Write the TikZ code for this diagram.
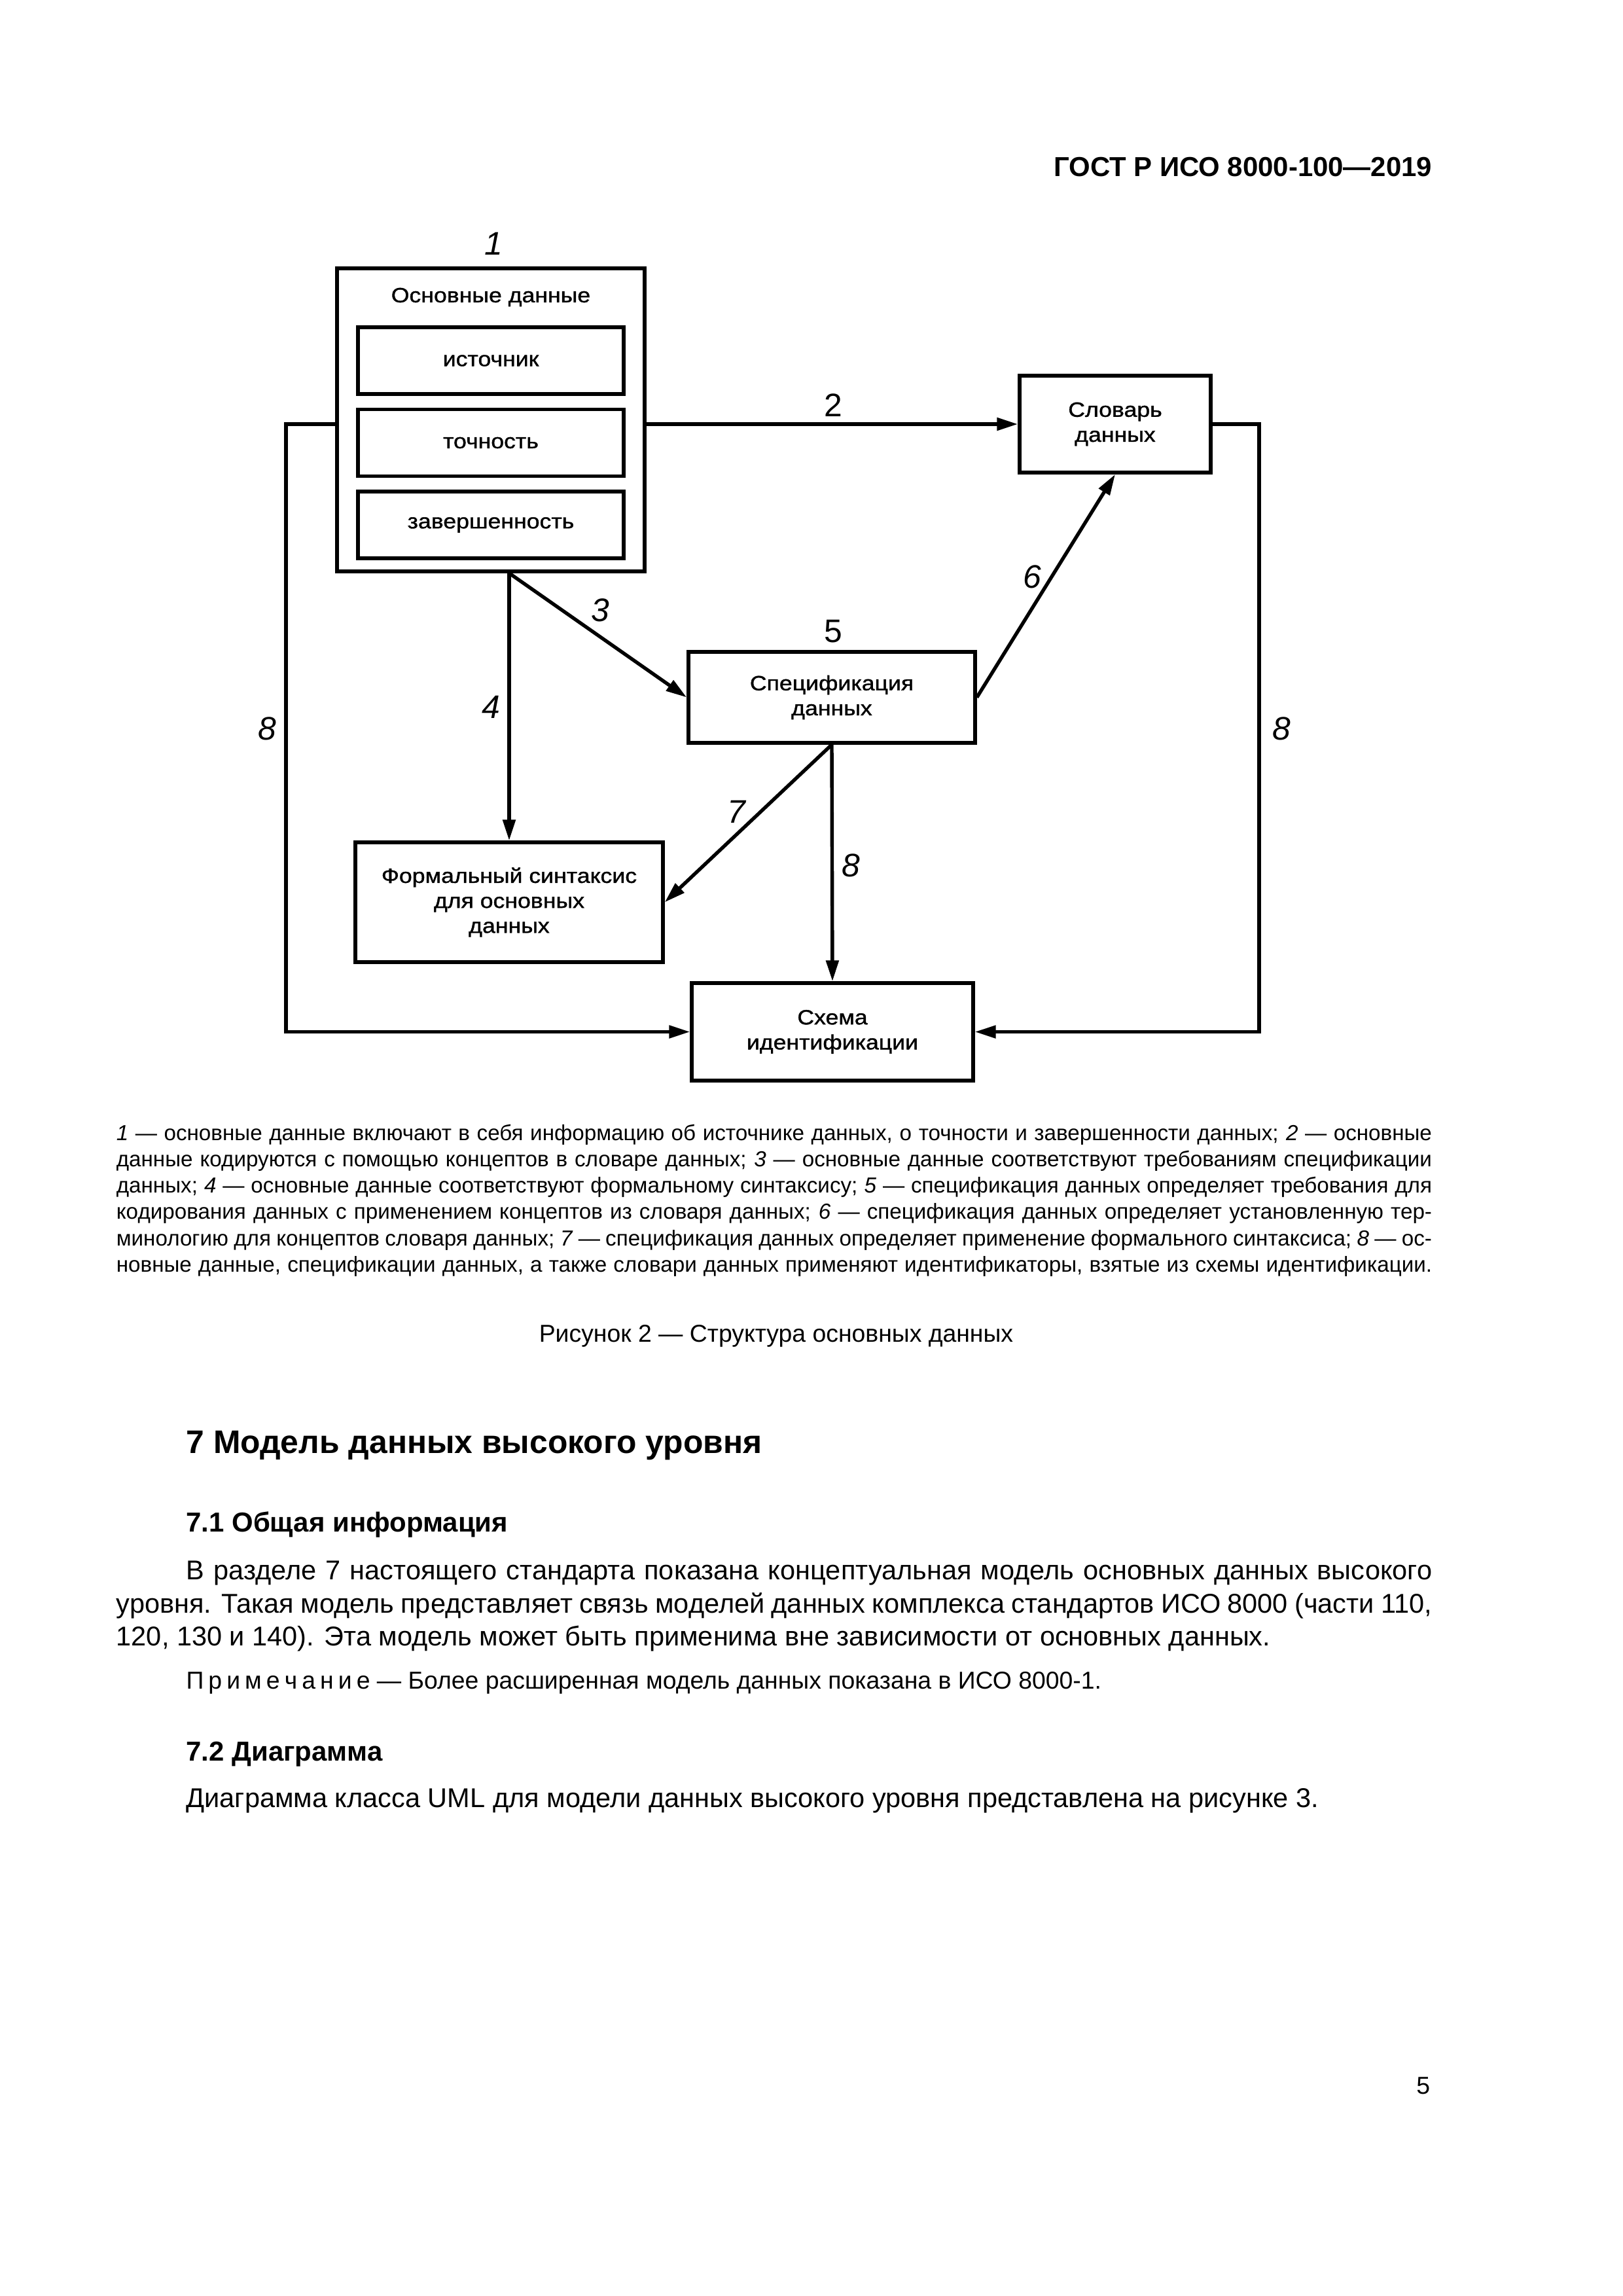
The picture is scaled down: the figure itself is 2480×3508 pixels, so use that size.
\documentclass[tikz,border=0pt]{standalone}
\usepackage{fontspec}
\setmainfont{Liberation Sans}
\newfontfamily\diagfont{Liberation Sans}[FakeStretch=1.13,FakeBold=1.2]
\usetikzlibrary{arrows.meta}
\def\u{0.084677mm}
\newcommand\lgline[1]{\makebox[170.2mm][s]{#1}}
\begin{document}
\begin{tikzpicture}[x=0.084677mm,y=-0.084677mm,
  box/.style={draw, line width=1.3pt, inner sep=0pt, align=center,
    font=\diagfont\fontsize{7.6}{9.2}\selectfont},
  btxt/.style={inner sep=0pt, align=center, font=\diagfont\fontsize{7.6}{9.2}\selectfont},
  lbl/.style={inner sep=0pt, font=\fontsize{12}{14}\selectfont\itshape},
  lblup/.style={inner sep=0pt, font=\fontsize{12}{14}\selectfont},
  arr/.style={line width=1.3pt, -{Triangle[length=2.7mm,width=1.6mm]}},
  ln/.style={inner sep=0pt, anchor=base west},
  legend/.style={ln, font=\fontsize{8}{9.7}\selectfont},
  body/.style={ln, font=\fontsize{10}{12}\selectfont},
  head/.style={ln, font=\bfseries\fontsize{10.1}{12}\selectfont}
]
\fill[white] (0,0) rectangle (2480,3508);
\useasboundingbox (0,0) rectangle (2480,3508);

% header
\node[inner sep=0pt, anchor=base east, font=\bfseries\fontsize{10.1}{12}\selectfont] (hdr) at (2189,269) {ГОСТ Р ИСО 8000-100—2019};

% boxes
\node[box, minimum width=470*\u, minimum height=463*\u] (outer) at (750,641.5) {};
\node[btxt] (outtitle) at (750,454) {Основные данные};
\node[box, minimum width=406*\u, minimum height=102*\u] (src) at (750,551) {источник};
\node[box, minimum width=406*\u, minimum height=102*\u] (acc) at (750,676.5) {точность};
\node[box, minimum width=406*\u, minimum height=102*\u] (cmp) at (750,802) {завершенность};
\node[box, minimum width=292*\u, minimum height=148*\u] (dict) at (1704,648) {Словарь\\данных};
\node[box, minimum width=438*\u, minimum height=139*\u] (spec) at (1271,1065.5) {Спецификация\\данных};
\node[box, minimum width=470*\u, minimum height=183*\u] (form) at (778,1378.5) {Формальный синтаксис\\для основных\\данных};
\node[box, minimum width=430*\u, minimum height=149*\u] (scheme) at (1272,1576.5) {Схема\\идентификации};

% connectors
\coordinate (o4) at (form.north |- outer.south);
\coordinate (lft) at (437,1000);
\coordinate (rgt) at (1924,1000);
\draw[arr] (outer.east |- dict.west) -- (dict.west);
\draw[arr] (o4) -- (spec.west);
\draw[arr] (o4) -- (form.north);
\draw[arr] (spec.east) -- (dict.south);
\draw[arr] (spec.south) -- (form.east);
\draw[arr] (spec.south) -- (scheme.north);
\draw[arr] (outer.west |- dict.west) -- (lft |- dict.west) -- (lft |- scheme.west) -- (scheme.west);
\draw[arr] (dict.east) -- (rgt |- dict.east) -- (rgt |- scheme.east) -- (scheme.east);

% labels
\node[lbl] (n1) at (754,372) {1};
\node[lblup] (n2) at (1273,619) {2};
\node[lbl] (n3) at (917,932) {3};
\node[lbl] (n4) at (750,1080) {4};
\node[lblup] (n5) at (1273,965) {5};
\node[lbl] (n6) at (1577,881) {6};
\node[lbl] (n7) at (1125,1240) {7};
\node[lbl] (n8a) at (408,1113) {8};
\node[lbl] (n8b) at (1300,1322) {8};
\node[lbl] (n8c) at (1958,1113) {8};

% legend
\node[legend] (g1) at (177,1742) {\lgline{\textit{1} — основные данные включают в себя информацию об источнике данных, о точности и завершенности данных; \textit{2} — основные}};
\node[legend] (g2) at (177,1782.3) {\lgline{данные кодируются с помощью концептов в словаре данных; \textit{3} — основные данные соответствуют требованиям спецификации}};
\node[legend] (g3) at (177,1822.6) {\lgline{данных; \textit{4} — основные данные соответствуют формальному синтаксису; \textit{5} — спецификация данных определяет требования для}};
\node[legend] (g4) at (177,1862.9) {\lgline{кодирования данных с применением концептов из словаря данных; \textit{6} — спецификация данных определяет установленную тер-}};
\node[legend] (g5) at (177,1903.2) {\lgline{минологию для концептов словаря данных; \textit{7} — спецификация данных определяет применение формального синтаксиса; \textit{8} — ос-}};
\node[legend] (g6) at (177,1943.5) {\lgline{новные данные, спецификации данных, а также словари данных применяют идентификаторы, взятые из схемы идентификации.}};

% caption
\node[inner sep=0pt, anchor=base, font=\fontsize{9}{11}\selectfont] (cap) at (1186,2050) {Рисунок 2 — Структура основных данных};

% section text
\node[ln, font=\bfseries\fontsize{12}{14}\selectfont] (h7) at (283.7,2220) {7 Модель данных высокого уровня};
\node[head] (h71) at (283.7,2340) {7.1 Общая информация};
\node[body] (b1) at (283.7,2413) {\makebox[161.2mm][s]{В разделе 7 настоящего стандарта показана концептуальная модель основных данных высокого}};
\node[body] (b2) at (177,2464.7) {\makebox[170.2mm][s]{уровня. Такая модель представляет связь моделей данных комплекса стандартов ИСО 8000 (части 110,}};
\node[body] (b3) at (177,2514) {120, 130 и 140). Эта модель может быть применима вне зависимости от основных данных.};
\node[ln, font=\fontsize{9}{11}\selectfont] (note) at (283.7,2580.5) {П\kern1.7ptр\kern1.7ptи\kern1.7ptм\kern1.7ptе\kern1.7ptч\kern1.7ptа\kern1.7ptн\kern1.7ptи\kern1.7ptе — Более расширенная модель данных показана в ИСО 8000-1.};
\node[head] (h72) at (283.7,2690) {7.2 Диаграмма};
\node[body] (b4) at (283.7,2761) {Диаграмма класса UML для модели данных высокого уровня представлена на рисунке 3.};

% page number
\node[inner sep=0pt, anchor=base east, font=\fontsize{9}{11}\selectfont] (pg) at (2186,3199) {5};
\end{tikzpicture}
\end{document}
